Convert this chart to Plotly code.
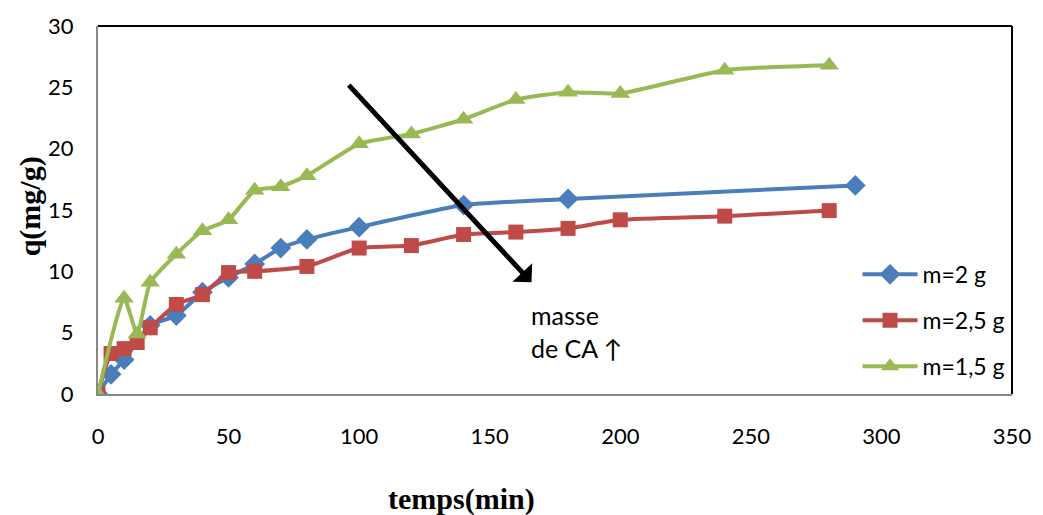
import plotly.graph_objects as go

# Adsorption kinetics: q (mg/g) vs contact time for three carbon masses
t_m2 = [0, 5, 10, 20, 30, 40, 50, 60, 70, 80, 100, 140, 180, 290]
q_m2 = [0, 1.6, 2.8, 5.6, 6.4, 8.3, 9.5, 10.6, 11.9, 12.6, 13.6, 15.4, 15.9, 17.0]

t_m25 = [0, 5, 10, 15, 20, 30, 40, 50, 60, 80, 100, 120, 140, 160, 180, 200, 240, 280]
q_m25 = [0, 3.3, 3.7, 4.2, 5.4, 7.3, 8.1, 9.9, 10.0, 10.4, 11.9, 12.1, 13.0, 13.2, 13.5, 14.2, 14.5, 14.95]

t_m15 = [0, 10, 15, 20, 30, 40, 50, 60, 70, 80, 100, 120, 140, 160, 180, 200, 240, 280]
q_m15 = [0, 7.8, 4.9, 9.1, 11.4, 13.3, 14.2, 16.6, 16.9, 17.8, 20.4, 21.2, 22.4, 24.0, 24.6, 24.5, 26.4, 26.8]

x_ticks = [0, 50, 100, 150, 200, 250, 300, 350]
y_ticks = [0, 5, 10, 15, 20, 25, 30]

series = [
    ("m=2 g", t_m2, q_m2, "#4A7EBB", "diamond", 16),
    ("m=2,5 g", t_m25, q_m25, "#BE4B48", "square", 15),
    ("m=1,5 g", t_m15, q_m15, "#98B954", "triangle-up", 17),
]

FONT = "Lato"
fig = go.Figure()
for i, (name, xs, ys, col, sym, sz) in enumerate(series):
    fig.add_trace(go.Scatter(
        x=xs, y=ys, name=name, mode="lines+markers",
        line=dict(color=col, width=4, shape="spline", smoothing=0.5),
        marker=dict(symbol=sym, size=sz, color=col),
        legendgroup=f"g{i}",
    ))

fig.update_layout(
    width=1043, height=515,
    margin=dict(l=98, r=21, t=23, b=121),
    paper_bgcolor="white", plot_bgcolor="white",
    font=dict(family=FONT, size=22, color="black"),
    showlegend=True,
    legend=dict(
        x=0.831, y=0.2, xanchor="left", yanchor="middle",
        bgcolor="rgba(0,0,0,0)", traceorder="grouped", tracegroupgap=13,
        itemwidth=55, font=dict(family=FONT, size=23),
    ),
    xaxis=dict(
        range=[0, 350], tickvals=x_ticks, showgrid=False, zeroline=False,
        showline=True, linecolor="#888888", linewidth=2, ticks="",
        ticklabelstandoff=22, tickfont=dict(family=FONT, size=22),
    ),
    yaxis=dict(
        range=[0, 30], tickvals=y_ticks, showgrid=False, zeroline=False,
        showline=True, linecolor="#888888", linewidth=2, ticks="",
        ticklabelstandoff=18, tickfont=dict(family=FONT, size=22),
    ),
    shapes=[
        dict(type="line", xref="paper", yref="paper", x0=0, x1=1, y0=1, y1=1,
             line=dict(color="black", width=2)),
        dict(type="line", xref="paper", yref="paper", x0=1, x1=1, y0=0, y1=1,
             line=dict(color="black", width=2)),
    ],
    annotations=[
        dict(x=166, y=9.1, ax=95.5, ay=25.3, xref="x", yref="y", axref="x", ayref="y",
             showarrow=True, arrowhead=1, arrowsize=0.9, arrowwidth=5,
             arrowcolor="black", text=""),
        dict(x=165, y=5.1, xref="x", yref="y", xanchor="left", yanchor="middle",
             text="masse<br>de CA \u2191", showarrow=False, align="left",
             font=dict(family=FONT, size=25)),
        dict(x=0, y=0.51, xref="paper", yref="paper", xanchor="center", xshift=-68,
             text="<b>q(mg/g)</b>", showarrow=False, textangle=-90,
             font=dict(family="Liberation Serif", size=30, color="black")),
        dict(x=0.398, y=-0.285, xref="paper", yref="paper", yanchor="middle",
             text="<b>temps(min)</b>", showarrow=False,
             font=dict(family="Liberation Serif", size=30, color="black")),
    ],
)

fig.write_html("out.html")
